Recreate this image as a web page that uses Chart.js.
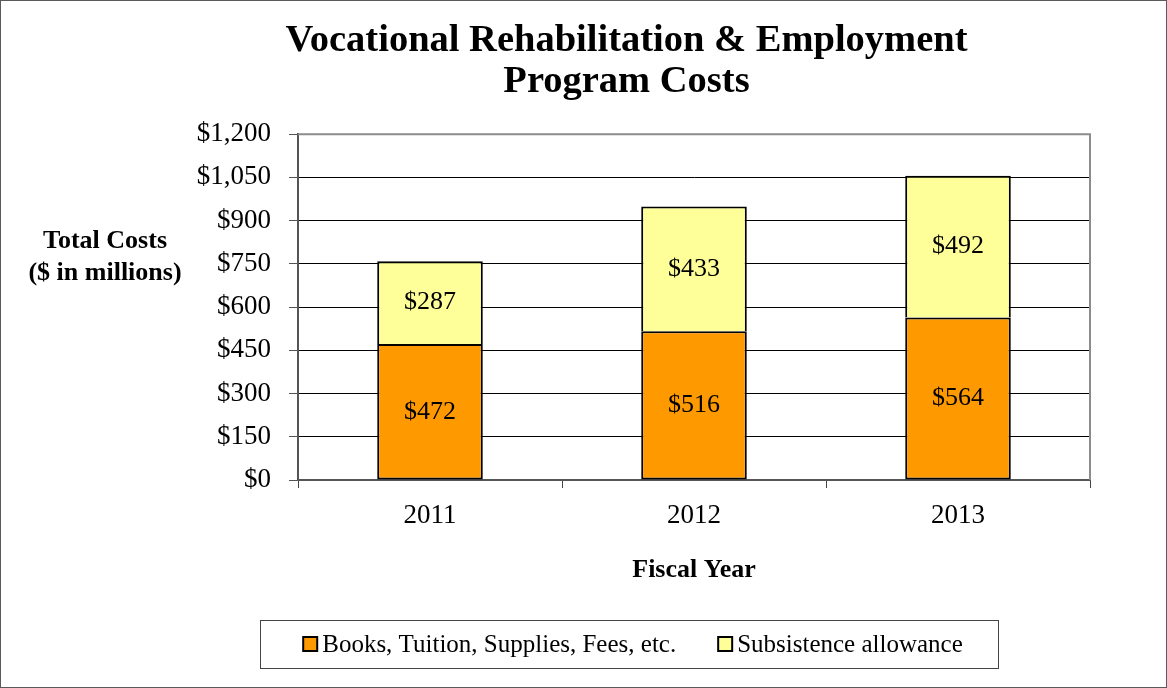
<!DOCTYPE html>
<html>
<head>
<meta charset="utf-8">
<title>Vocational Rehabilitation & Employment Program Costs</title>
<script src="https://cdn.jsdelivr.net/npm/chart.js@4.4.1/dist/chart.umd.min.js"></script>
<style>
  html, body { margin: 0; padding: 0; background: #fff; }
  #wrap { width: 1167px; height: 688px; position: relative; }
</style>
</head>
<body>
<div id="wrap"><canvas id="chart"></canvas></div>
<script>
// Fiscal years and costs ($ in millions)
const years = ["2011", "2012", "2013"];
const booksTuition = [472, 516, 564];
const subsistence = [287, 433, 492];

const seriesNames = ["Books, Tuition, Supplies, Fees, etc.", "Subsistence allowance"];
const seriesColors = ["#ff9900", "#ffff99"];
const yTickStep = 150;
const yTickMax = 1200;
const titleLines = ["Vocational Rehabilitation & Employment", "Program Costs"];
const yTitleLines = ["Total Costs", "($ in millions)"];
const xTitle = "Fiscal Year";

const SERIF = "'Liberation Serif', 'Times New Roman', serif";

// white background, outer frame, plot border, y title and the boxed legend
const decorations = {
  id: "decorations",
  beforeDraw(chart) {
    const ctx = chart.ctx;
    ctx.save();
    ctx.fillStyle = "#fff";
    ctx.fillRect(0, 0, chart.width, chart.height);
    ctx.strokeStyle = "#5a5a5a";
    ctx.lineWidth = 1;
    ctx.strokeRect(0.5, 0.5, chart.width - 1, chart.height - 1);
    ctx.restore();
  },
  afterDraw(chart) {
    const a = chart.chartArea;
    const ctx = chart.ctx;
    ctx.save();
    // gray plot border on top and right
    ctx.strokeStyle = "#8c8c8c";
    ctx.lineWidth = 2;
    ctx.beginPath();
    ctx.moveTo(a.left, a.top);
    ctx.lineTo(a.right, a.top);
    ctx.lineTo(a.right, a.bottom);
    ctx.stroke();

    // horizontal y-axis title
    ctx.fillStyle = "#000";
    ctx.font = "bold 26px " + SERIF;
    ctx.textAlign = "center";
    ctx.textBaseline = "middle";
    yTitleLines.forEach((t, i) => ctx.fillText(t, a.left - 193, a.top + 107 + i * 32));

    // legend in a box under the x axis title
    const boxTop = chart.scales.x.bottom;
    const boxLeft = a.left - 38, boxRight = a.right - 92;
    ctx.strokeStyle = "#444";
    ctx.lineWidth = 1;
    ctx.strokeRect(boxLeft + 0.5, boxTop + 0.5, boxRight - boxLeft, 48);

    ctx.font = "25px " + SERIF;
    ctx.textAlign = "left";
    const sw = 14, gap = 5, itemGap = 42;
    const widths = chart.data.datasets.map((ds) => sw + gap + ctx.measureText(ds.label).width);
    const total = widths.reduce((s, w) => s + w, 0) + itemGap * (widths.length - 1);
    let x = (boxLeft + boxRight) / 2 + 4 - total / 2;
    const cy = boxTop + 24;
    chart.data.datasets.forEach((ds, i) => {
      ctx.fillStyle = ds.backgroundColor;
      ctx.fillRect(x, cy - sw / 2, sw, sw);
      ctx.strokeStyle = "#000";
      ctx.lineWidth = 2;
      ctx.strokeRect(x, cy - sw / 2, sw, sw);
      ctx.fillStyle = "#000";
      ctx.fillText(ds.label, x + sw + gap, cy + 1);
      x += widths[i] + itemGap;
    });
    ctx.restore();
  }
};

// value labels centred in each bar segment
const segmentLabels = {
  id: "segmentLabels",
  afterDatasetsDraw(chart) {
    const ctx = chart.ctx;
    ctx.save();
    ctx.fillStyle = "#000";
    ctx.font = "26px " + SERIF;
    ctx.textAlign = "center";
    ctx.textBaseline = "middle";
    chart.data.datasets.forEach((ds, di) => {
      chart.getDatasetMeta(di).data.forEach((bar, i) => {
        const p = bar.getCenterPoint();
        ctx.fillText("$" + ds.data[i], p.x, p.y);
      });
    });
    ctx.restore();
  }
};

new Chart(document.getElementById("chart"), {
  type: "bar",
  data: {
    labels: years,
    datasets: [
      {
        label: seriesNames[0],
        data: booksTuition,
        backgroundColor: seriesColors[0],
        borderColor: "#000",
        borderWidth: 2,
        borderSkipped: false
      },
      {
        label: seriesNames[1],
        data: subsistence,
        backgroundColor: seriesColors[1],
        borderColor: "#000",
        borderWidth: 2,
        borderSkipped: "bottom"
      }
    ]
  },
  options: {
    responsive: true,
    maintainAspectRatio: false,
    animation: false,
    devicePixelRatio: 1,
    layout: { padding: { top: 0, left: 163, right: 77, bottom: 68 } },
    datasets: { bar: { categoryPercentage: 1, barPercentage: 0.4 } },
    plugins: {
      title: {
        display: true,
        text: titleLines,
        color: "#000",
        font: { family: SERIF, size: 38.5, weight: "bold", lineHeight: 1.08 },
        padding: { top: 20, bottom: 31 }
      },
      legend: { display: false },
      tooltip: { enabled: false }
    },
    scales: {
      x: {
        stacked: true,
        grid: { offset: true, drawOnChartArea: false, drawTicks: true, tickLength: 8, color: "#444", lineWidth: 1 },
        border: { color: "#555", width: 2 },
        ticks: { color: "#000", font: { family: SERIF, size: 27 }, padding: 12 },
        title: {
          display: true,
          text: xTitle,
          color: "#000",
          font: { family: SERIF, size: 26, weight: "bold" },
          padding: { top: 0, bottom: 34 }
        },
        afterFit(scale) { scale.height = 140; }
      },
      y: {
        stacked: true,
        min: 0,
        max: yTickMax,
        grid: { color: "#000", lineWidth: 1, tickLength: 9, tickColor: "#555" },
        border: { color: "#555", width: 2 },
        ticks: {
          stepSize: yTickStep,
          color: "#000",
          font: { family: SERIF, size: 27 },
          padding: 18,
          callback: (v) => "$" + v.toLocaleString("en-US")
        },
        afterFit(scale) { scale.width = 135; }
      }
    }
  },
  plugins: [decorations, segmentLabels]
});
</script>
</body>
</html>
